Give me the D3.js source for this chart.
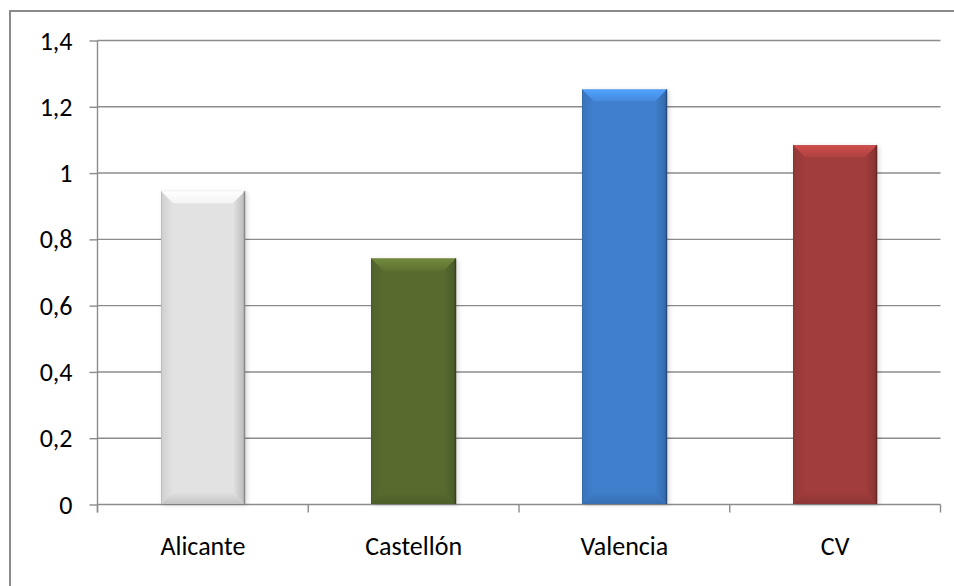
<!DOCTYPE html>
<html>
<head>
<meta charset="utf-8">
<title>Bar chart</title>
<script src="https://d3js.org/d3.v7.min.js"></script>
<style>
  body { margin: 0; background: #fff; }
  svg { display: block; }
  .tick-label { font-family: Carlito, Calibri, "Open Sans", sans-serif; font-size: 26px; fill: #000; }
</style>
</head>
<body>
<svg id="chart" width="954" height="586"></svg>
<script>
// data
const categories = ["Alicante", "Castellón", "Valencia", "CV"];
const values = [0.945, 0.742, 1.252, 1.084];
const yTicks = [0, 0.2, 0.4, 0.6, 0.8, 1, 1.2, 1.4];

// styles
const barColors = ["#e2e2e2", "#586b2f", "#3f7fcc", "#a13d3c"];
const gridColor = "#8c8c8c";

const width = 954, height = 586;
const svg = d3.select("#chart");

// outer chart border (only left and top are visible in the frame)
svg.append("rect")
    .attr("x", 10).attr("y", 11)
    .attr("width", width + 20).attr("height", height + 20)
    .attr("fill", "none")
    .attr("stroke", "#8a8a8a")
    .attr("stroke-width", 2);

const plot = { left: 97.5, right: 940.5, top: 40.5, bottom: 504.5 };

const x = d3.scaleBand()
    .domain(categories)
    .range([plot.left, plot.right])
    .paddingInner(0.6)
    .paddingOuter(0.3);

const y = d3.scaleLinear()
    .domain([0, 1.4])
    .range([plot.bottom, plot.top]);

const locale = d3.formatLocale({ decimal: ",", thousands: ".", grouping: [3], currency: ["", "€"] });
const fmt = locale.format("~g");

// horizontal gridlines
svg.append("g")
    .selectAll("line")
    .data(yTicks.filter(d => d > 0))
    .join("line")
    .attr("x1", plot.left).attr("x2", plot.right)
    .attr("y1", d => y(d)).attr("y2", d => y(d))
    .attr("stroke", gridColor)
    .attr("stroke-width", 1.4);

// y axis
const yAxis = d3.axisLeft(y)
    .tickValues(yTicks)
    .tickSize(8)
    .tickPadding(17)
    .tickFormat(fmt);

const gy = svg.append("g")
    .attr("transform", `translate(${plot.left},0)`)
    .call(yAxis);
gy.select(".domain").attr("stroke", gridColor).attr("stroke-width", 1.4)
    .attr("d", `M0,${plot.top}V${plot.bottom + 8}`);
gy.selectAll(".tick line").attr("stroke", gridColor).attr("stroke-width", 1.4);
gy.selectAll(".tick text")
    .attr("class", "tick-label")
    .attr("font-family", null).attr("font-size", null)
    .attr("dy", "0.33em");

// x axis: category separators
const step = x.step();
const bounds = d3.range(categories.length + 1).map(i => plot.left + i * step);

svg.append("line")
    .attr("x1", plot.left).attr("x2", plot.right)
    .attr("y1", plot.bottom).attr("y2", plot.bottom)
    .attr("stroke", gridColor).attr("stroke-width", 1.4);

svg.append("g")
    .selectAll("line")
    .data(bounds)
    .join("line")
    .attr("x1", d => d).attr("x2", d => d)
    .attr("y1", plot.bottom).attr("y2", plot.bottom + 8)
    .attr("stroke", gridColor).attr("stroke-width", 1.4);

svg.append("g")
    .selectAll("text")
    .data(categories)
    .join("text")
    .attr("class", "tick-label")
    .attr("x", d => x(d) + x.bandwidth() / 2)
    .attr("y", plot.bottom + 50)
    .attr("text-anchor", "middle")
    .text(d => d);

// bars with bevel
const defs = svg.append("defs");
defs.append("filter").attr("id", "shadow")
    .attr("x", "-20%").attr("y", "-10%").attr("width", "140%").attr("height", "120%")
    .append("feGaussianBlur").attr("stdDeviation", 2.5);

// gradient helper for the bevel facets
function grad(id, c1, c2, x1, y1, x2, y2) {
    const lg = defs.append("linearGradient").attr("id", id)
        .attr("x1", x1).attr("y1", y1).attr("x2", x2).attr("y2", y2);
    lg.append("stop").attr("offset", "0%").attr("stop-color", c1);
    lg.append("stop").attr("offset", "100%").attr("stop-color", c2);
    return `url(#${id})`;
}

const b = 12;
const bars = svg.append("g")
    .selectAll("g")
    .data(values)
    .join("g");

bars.each(function(v, i) {
    const g = d3.select(this);
    const x0 = Math.round(x(categories[i])), x1 = Math.round(x(categories[i]) + x.bandwidth());
    const y0 = y(v), y1 = plot.bottom - 0.5;
    const base = d3.color(barColors[i]);
    const hex = c => c.formatHex();

    // soft shadow
    g.append("rect")
        .attr("x", x0 + 2).attr("y", y0 + 1)
        .attr("width", x1 - x0).attr("height", y1 - y0)
        .attr("fill", "#000").attr("opacity", 0.16)
        .attr("filter", "url(#shadow)");

    g.append("rect")
        .attr("x", x0).attr("y", y0)
        .attr("width", x1 - x0).attr("height", y1 - y0)
        .attr("fill", hex(base));

    const poly = pts => pts.map(p => p.join(",")).join(" ");
    // top facet (light)
    g.append("polygon")
        .attr("points", poly([[x0, y0], [x1, y0], [x1 - b, y0 + b], [x0 + b, y0 + b]]))
        .attr("fill", grad("top" + i, hex(base.brighter(0.7)), hex(base.brighter(0.2)), 0, 0, 0, 1));
    // left facet
    g.append("polygon")
        .attr("points", poly([[x0, y0], [x0 + b, y0 + b], [x0 + b, y1 - b], [x0, y1]]))
        .attr("fill", grad("left" + i, hex(base.darker(0.25)), hex(base), 0, 0, 1, 0));
    // right facet (dark)
    g.append("polygon")
        .attr("points", poly([[x1, y0], [x1, y1], [x1 - b, y1 - b], [x1 - b, y0 + b]]))
        .attr("fill", grad("right" + i, hex(base), hex(base.darker(0.55)), 0, 0, 1, 0));
    // bottom facet
    g.append("polygon")
        .attr("points", poly([[x0, y1], [x1, y1], [x1 - b, y1 - b], [x0 + b, y1 - b]]))
        .attr("fill", grad("bot" + i, hex(base), hex(base.darker(0.4)), 0, 0, 0, 1));
    // thin edges
    g.append("line")
        .attr("x1", x1 - 0.5).attr("x2", x1 - 0.5).attr("y1", y0).attr("y2", y1)
        .attr("stroke", hex(base.darker(1.4))).attr("stroke-width", 1.5);
    g.append("line")
        .attr("x1", x0 + 0.5).attr("x2", x0 + 0.5).attr("y1", y0).attr("y2", y1)
        .attr("stroke", hex(base.darker(0.5))).attr("stroke-width", 1);
});
</script>
</body>
</html>
